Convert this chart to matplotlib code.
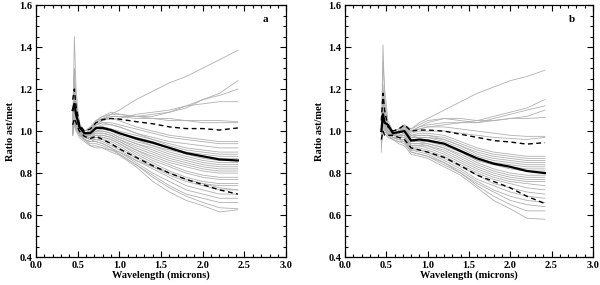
import matplotlib
matplotlib.use('Agg')
import matplotlib.pyplot as plt
from matplotlib.ticker import MultipleLocator

# wavelength grid (microns) for every curve
wl = [0.44, 0.46, 0.48, 0.52, 0.58, 0.65, 0.72, 0.80, 0.90, 1.0,
      1.2, 1.4, 1.6, 1.8, 2.0, 2.2, 2.42]

# panel a
mean_a = [1.10, 1.13, 1.08, 1.02, 0.99, 0.99, 1.015, 1.015, 1.005, 0.99,
          0.965, 0.945, 0.92, 0.895, 0.88, 0.865, 0.86]
upper_a = [1.15, 1.20, 1.12, 1.03, 1.00, 1.01, 1.04, 1.055, 1.06, 1.057,
           1.045, 1.035, 1.02, 1.012, 1.012, 1.005, 1.015]
lower_a = [1.03, 1.06, 1.04, 1.00, 0.975, 0.965, 0.975, 0.96, 0.94, 0.915,
           0.875, 0.835, 0.80, 0.77, 0.745, 0.72, 0.70]
gray_a = [
    [1.00, 1.45, 1.20, 1.03, 1.00, 1.02, 1.05, 1.06, 1.08, 1.10, 1.15, 1.19, 1.23, 1.26, 1.30, 1.34, 1.385],
    [1.02, 1.30, 1.15, 1.04, 1.00, 1.01, 1.04, 1.05, 1.07, 1.07, 1.07, 1.08, 1.09, 1.11, 1.15, 1.18, 1.24],
    [1.05, 1.25, 1.10, 1.03, 1.00, 1.01, 1.05, 1.07, 1.09, 1.08, 1.07, 1.07, 1.09, 1.12, 1.15, 1.17, 1.20],
    [1.00, 1.18, 1.08, 1.02, 0.99, 1.00, 1.03, 1.05, 1.06, 1.06, 1.08, 1.09, 1.10, 1.12, 1.13, 1.14, 1.14],
    [1.02, 1.20, 1.12, 1.03, 1.00, 1.01, 1.05, 1.07, 1.08, 1.08, 1.07, 1.06, 1.06, 1.05, 1.05, 1.05, 1.045],
    [1.00, 1.15, 1.07, 1.02, 0.99, 1.00, 1.04, 1.06, 1.07, 1.07, 1.06, 1.06, 1.05, 1.05, 1.04, 1.04, 1.04],
    [1.03, 1.15, 1.08, 1.02, 0.99, 1.00, 1.04, 1.06, 1.06, 1.05, 1.02, 1.00, 0.98, 0.97, 0.96, 0.95, 0.95],
    [1.00, 1.12, 1.06, 1.01, 0.99, 1.00, 1.03, 1.04, 1.04, 1.03, 1.01, 0.99, 0.97, 0.96, 0.95, 0.94, 0.94],
    [1.05, 1.22, 1.10, 1.02, 0.99, 1.00, 1.03, 1.04, 1.03, 1.02, 0.99, 0.97, 0.95, 0.94, 0.93, 0.92, 0.92],
    [1.00, 1.10, 1.05, 1.01, 0.99, 0.99, 1.02, 1.03, 1.03, 1.02, 0.99, 0.96, 0.94, 0.92, 0.91, 0.90, 0.90],
    [0.98, 1.13, 1.07, 1.02, 0.99, 0.99, 1.02, 1.02, 1.01, 1.00, 0.98, 0.96, 0.93, 0.91, 0.90, 0.89, 0.89],
    [1.02, 1.16, 1.08, 1.02, 0.99, 0.99, 1.01, 1.02, 1.01, 0.99, 0.97, 0.95, 0.92, 0.90, 0.89, 0.88, 0.88],
    [1.00, 1.10, 1.04, 1.00, 0.98, 0.99, 1.01, 1.01, 1.00, 0.99, 0.96, 0.94, 0.92, 0.90, 0.88, 0.87, 0.87],
    [1.04, 1.18, 1.09, 1.02, 0.99, 0.99, 1.02, 1.02, 1.01, 0.99, 0.96, 0.93, 0.91, 0.89, 0.87, 0.86, 0.86],
    [1.00, 1.08, 1.04, 1.00, 0.98, 0.98, 1.00, 1.01, 1.00, 0.98, 0.95, 0.93, 0.90, 0.88, 0.86, 0.85, 0.85],
    [1.01, 1.12, 1.06, 1.01, 0.98, 0.98, 1.00, 1.00, 0.99, 0.97, 0.94, 0.92, 0.89, 0.87, 0.85, 0.84, 0.84],
    [0.99, 1.06, 1.03, 1.00, 0.98, 0.98, 1.00, 1.00, 0.99, 0.97, 0.94, 0.91, 0.88, 0.86, 0.84, 0.83, 0.83],
    [1.03, 1.14, 1.07, 1.01, 0.98, 0.98, 0.99, 0.99, 0.98, 0.96, 0.93, 0.90, 0.87, 0.85, 0.83, 0.82, 0.82],
    [1.00, 1.09, 1.05, 1.00, 0.98, 0.97, 0.99, 0.99, 0.98, 0.96, 0.92, 0.89, 0.86, 0.84, 0.82, 0.81, 0.81],
    [1.02, 1.11, 1.05, 1.00, 0.97, 0.97, 0.98, 0.98, 0.97, 0.95, 0.91, 0.88, 0.85, 0.83, 0.81, 0.80, 0.80],
    [0.99, 1.07, 1.03, 0.99, 0.97, 0.97, 0.98, 0.98, 0.97, 0.95, 0.91, 0.87, 0.84, 0.81, 0.79, 0.78, 0.78],
    [1.01, 1.10, 1.04, 1.00, 0.97, 0.97, 0.98, 0.97, 0.96, 0.94, 0.90, 0.86, 0.83, 0.80, 0.78, 0.77, 0.77],
    [1.00, 1.05, 1.02, 0.99, 0.97, 0.96, 0.97, 0.97, 0.96, 0.94, 0.89, 0.85, 0.81, 0.78, 0.76, 0.75, 0.75],
    [1.03, 1.12, 1.05, 1.00, 0.97, 0.96, 0.97, 0.96, 0.95, 0.93, 0.88, 0.84, 0.80, 0.77, 0.75, 0.74, 0.74],
    [0.99, 1.06, 1.03, 0.99, 0.97, 0.96, 0.96, 0.96, 0.94, 0.92, 0.87, 0.83, 0.79, 0.76, 0.74, 0.72, 0.72],
    [1.00, 1.08, 1.03, 0.99, 0.96, 0.95, 0.96, 0.95, 0.93, 0.91, 0.86, 0.82, 0.78, 0.74, 0.72, 0.70, 0.70],
    [1.02, 1.10, 1.04, 0.99, 0.96, 0.95, 0.95, 0.94, 0.92, 0.90, 0.85, 0.80, 0.76, 0.72, 0.70, 0.68, 0.68],
    [0.98, 1.04, 1.01, 0.98, 0.96, 0.95, 0.95, 0.94, 0.92, 0.89, 0.84, 0.79, 0.74, 0.70, 0.68, 0.66, 0.66],
    [1.01, 1.07, 1.03, 0.99, 0.96, 0.94, 0.94, 0.93, 0.91, 0.89, 0.84, 0.78, 0.73, 0.69, 0.66, 0.635, 0.63],
    [0.99, 1.05, 1.02, 0.98, 0.96, 0.93, 0.93, 0.92, 0.90, 0.885, 0.83, 0.76, 0.71, 0.67, 0.645, 0.615, 0.625],
    [0.98, 1.03, 1.00, 0.97, 0.95, 0.93, 0.92, 0.92, 0.91, 0.90, 0.86, 0.83, 0.80, 0.77, 0.75, 0.73, 0.72],
]

# panel b
mean_b = [1.00, 1.08, 1.04, 1.03, 0.99, 0.995, 1.00, 0.955, 0.96, 0.955,
          0.94, 0.905, 0.87, 0.845, 0.83, 0.81, 0.80]
upper_b = [1.05, 1.18, 1.10, 1.02, 1.00, 1.01, 1.03, 1.00, 1.005, 1.005,
           1.00, 0.985, 0.97, 0.955, 0.948, 0.938, 0.945]
lower_b = [0.96, 1.00, 0.98, 0.98, 0.98, 0.97, 0.96, 0.92, 0.91, 0.90,
           0.875, 0.835, 0.79, 0.76, 0.73, 0.69, 0.655]
gray_b = [
    [0.95, 1.41, 1.15, 1.02, 0.99, 1.00, 1.02, 1.01, 1.04, 1.06, 1.10, 1.14, 1.18, 1.21, 1.24, 1.26, 1.29],
    [0.90, 1.33, 1.20, 1.05, 1.00, 1.01, 1.03, 1.00, 1.02, 1.04, 1.06, 1.06, 1.05, 1.07, 1.09, 1.11, 1.15],
    [1.00, 1.22, 1.10, 1.03, 1.00, 1.01, 1.03, 1.01, 1.03, 1.05, 1.06, 1.05, 1.04, 1.06, 1.08, 1.10, 1.12],
    [0.98, 1.18, 1.08, 1.02, 0.99, 1.00, 1.02, 1.00, 1.02, 1.03, 1.04, 1.04, 1.04, 1.05, 1.06, 1.07, 1.10],
    [1.02, 1.15, 1.06, 1.02, 0.99, 1.00, 1.02, 1.00, 1.01, 1.02, 1.03, 1.04, 1.05, 1.05, 1.06, 1.06, 1.065],
    [0.95, 1.12, 1.05, 1.01, 0.99, 1.00, 1.02, 1.00, 1.01, 1.02, 1.02, 1.01, 1.00, 0.99, 0.98, 0.975, 0.975],
    [1.00, 1.10, 1.04, 1.01, 0.99, 1.00, 1.02, 0.99, 1.00, 1.00, 1.00, 0.99, 0.98, 0.97, 0.965, 0.96, 0.97],
    [0.97, 1.10, 1.05, 1.01, 0.99, 1.00, 1.02, 0.98, 0.99, 0.99, 0.98, 0.95, 0.92, 0.90, 0.89, 0.88, 0.88],
    [1.02, 1.12, 1.05, 1.01, 0.99, 1.00, 1.01, 0.98, 0.98, 0.98, 0.97, 0.94, 0.91, 0.89, 0.88, 0.87, 0.87],
    [0.93, 1.06, 1.03, 1.00, 0.99, 0.99, 1.01, 0.97, 0.98, 0.98, 0.96, 0.93, 0.90, 0.88, 0.87, 0.86, 0.86],
    [1.00, 1.14, 1.06, 1.01, 0.99, 1.00, 1.01, 0.97, 0.97, 0.97, 0.96, 0.93, 0.89, 0.87, 0.86, 0.85, 0.85],
    [0.96, 1.08, 1.04, 1.00, 0.98, 0.99, 1.00, 0.97, 0.97, 0.97, 0.95, 0.92, 0.88, 0.86, 0.85, 0.84, 0.84],
    [1.03, 1.16, 1.07, 1.01, 0.99, 0.99, 1.00, 0.96, 0.96, 0.96, 0.94, 0.91, 0.87, 0.85, 0.84, 0.83, 0.83],
    [0.98, 1.07, 1.03, 1.00, 0.98, 0.99, 1.00, 0.96, 0.96, 0.96, 0.94, 0.90, 0.86, 0.84, 0.83, 0.82, 0.82],
    [0.94, 1.05, 1.02, 1.00, 0.98, 0.98, 0.99, 0.95, 0.95, 0.95, 0.93, 0.90, 0.86, 0.84, 0.82, 0.81, 0.81],
    [1.01, 1.10, 1.04, 1.00, 0.98, 0.98, 0.99, 0.95, 0.95, 0.94, 0.92, 0.89, 0.85, 0.82, 0.80, 0.79, 0.79],
    [0.97, 1.06, 1.03, 1.00, 0.98, 0.98, 0.98, 0.94, 0.94, 0.94, 0.92, 0.88, 0.84, 0.81, 0.79, 0.78, 0.78],
    [0.92, 1.04, 1.02, 0.99, 0.98, 0.98, 0.98, 0.94, 0.94, 0.93, 0.91, 0.87, 0.83, 0.80, 0.78, 0.77, 0.77],
    [1.00, 1.09, 1.04, 1.00, 0.98, 0.97, 0.98, 0.93, 0.93, 0.93, 0.90, 0.86, 0.82, 0.79, 0.77, 0.76, 0.76],
    [0.96, 1.05, 1.02, 0.99, 0.97, 0.97, 0.97, 0.93, 0.93, 0.92, 0.89, 0.85, 0.81, 0.78, 0.76, 0.75, 0.74],
    [0.99, 1.07, 1.03, 0.99, 0.97, 0.97, 0.97, 0.92, 0.92, 0.91, 0.88, 0.84, 0.80, 0.77, 0.75, 0.73, 0.72],
    [0.94, 1.03, 1.01, 0.99, 0.97, 0.96, 0.96, 0.92, 0.91, 0.90, 0.87, 0.83, 0.79, 0.75, 0.73, 0.71, 0.70],
    [1.01, 1.08, 1.03, 0.99, 0.97, 0.96, 0.96, 0.91, 0.91, 0.90, 0.86, 0.82, 0.77, 0.74, 0.71, 0.69, 0.68],
    [0.97, 1.04, 1.01, 0.98, 0.97, 0.96, 0.95, 0.91, 0.90, 0.89, 0.85, 0.81, 0.76, 0.72, 0.69, 0.67, 0.66],
    [0.95, 1.02, 1.00, 0.98, 0.96, 0.95, 0.95, 0.90, 0.89, 0.88, 0.85, 0.80, 0.75, 0.71, 0.67, 0.65, 0.64],
    [0.99, 1.06, 1.02, 0.98, 0.96, 0.95, 0.94, 0.90, 0.89, 0.88, 0.84, 0.80, 0.74, 0.69, 0.65, 0.62, 0.62],
    [0.93, 1.00, 0.99, 0.97, 0.96, 0.94, 0.93, 0.89, 0.88, 0.87, 0.83, 0.79, 0.73, 0.67, 0.63, 0.585, 0.58],
]

panels = [
    ('a', gray_a, mean_a, upper_a, lower_a, 0.060, 0.417),
    ('b', gray_b, mean_b, upper_b, lower_b, 0.575, 0.413),
]

plt.rcParams['font.family'] = 'Liberation Serif'
plt.rcParams['font.weight'] = 'bold'

fig = plt.figure(figsize=(6.0, 2.85), dpi=100)

for name, gray, mean, upper, lower, left, width in panels:
    ax = fig.add_axes([left, 0.098, width, 0.884])
    for g in gray:
        ax.plot(wl, g, color='#b0b0b0', lw=0.6)
    ax.plot(wl, upper, color='black', lw=1.0, ls=(0, (3.5, 2.5)))
    ax.plot(wl, lower, color='black', lw=1.0, ls=(0, (3.5, 2.5)))
    ax.plot(wl, mean, color='black', lw=1.6)

    ax.set_xlim(0.0, 3.0)
    ax.set_ylim(0.4, 1.6)
    ax.xaxis.set_major_locator(MultipleLocator(0.5))
    ax.xaxis.set_minor_locator(MultipleLocator(0.1))
    ax.yaxis.set_major_locator(MultipleLocator(0.2))
    ax.yaxis.set_minor_locator(MultipleLocator(0.05))
    ax.xaxis.set_major_formatter(plt.FormatStrFormatter('%.1f'))
    ax.yaxis.set_major_formatter(plt.FormatStrFormatter('%.1f'))
    ax.tick_params(which='both', direction='in', top=True, right=True,
                   labelsize=7.5, width=0.8, pad=2.5)
    ax.tick_params(which='major', length=4)
    ax.tick_params(which='minor', length=2)
    for s in ax.spines.values():
        s.set_linewidth(0.9)

    ax.set_xlabel('Wavelength (microns)', fontsize=7.5, fontweight='bold', labelpad=0.5)
    ax.set_ylabel('Ratio ast/met', fontsize=7.5, fontweight='bold', labelpad=3)
    ax.text(2.75, 1.53, name, fontsize=8, fontweight='bold', ha='center', va='center')

fig.savefig('out.png', dpi=100)
